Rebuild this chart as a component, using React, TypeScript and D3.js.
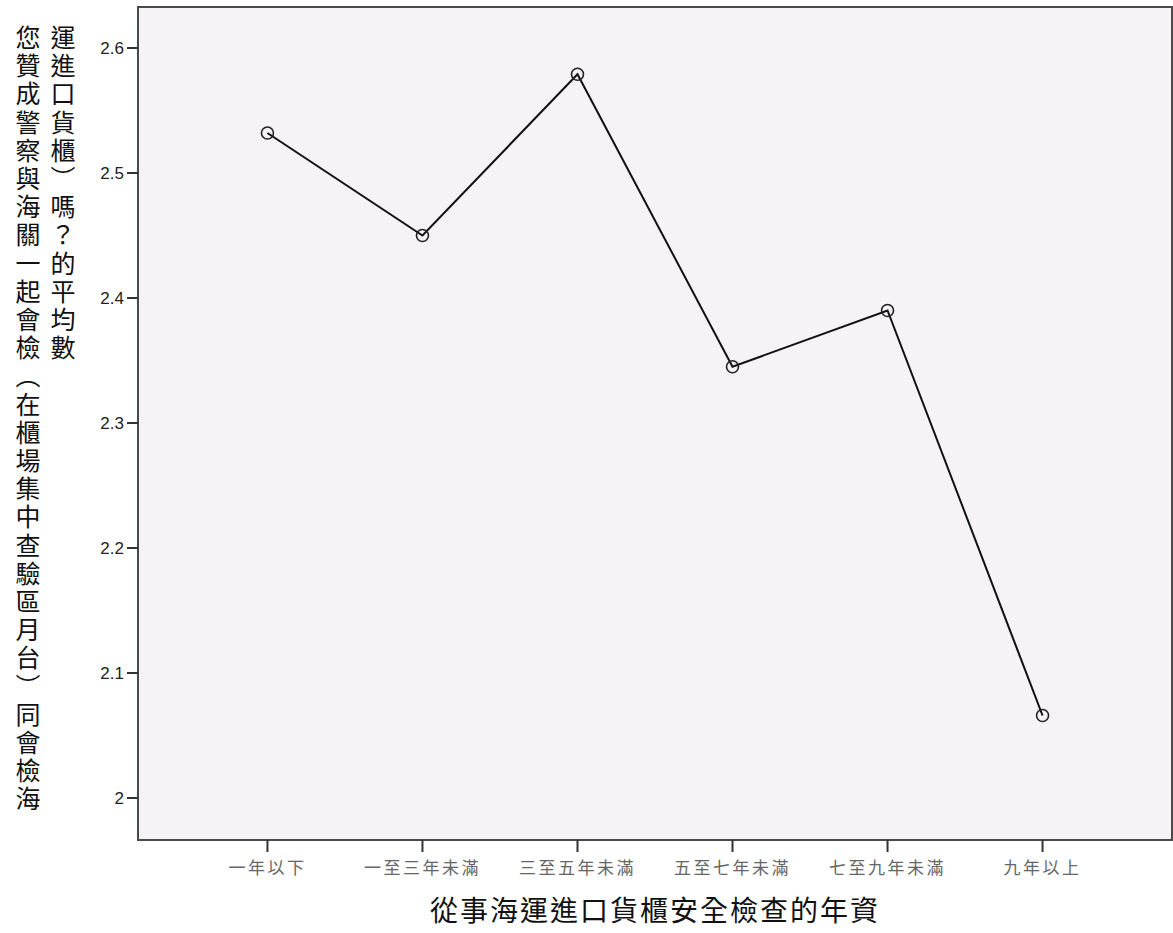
import React from "react";
import * as d3 from "d3";

const categories = ["一年以下", "一至三年未滿", "三至五年未滿", "五至七年未滿", "七至九年未滿", "九年以上"];
const meanValues = [2.532, 2.45, 2.579, 2.345, 2.39, 2.066];
const yTicks = [2.0, 2.1, 2.2, 2.3, 2.4, 2.5, 2.6];
const yTitleLeft = "您贊成警察與海關一起會檢（在櫃場集中查驗區月台）同會檢海";
const yTitleRight = "運進口貨櫃）嗎？的平均數";
const xTitle = "從事海運進口貨櫃安全檢查的年資";

const W = 1173;
const H = 933;
const plot = { left: 138, top: 7, right: 1172, bottom: 840 };
const CJK = "'Noto Sans CJK TC', 'Noto Sans CJK SC', sans-serif";

export default function App() {
  const x = d3
    .scalePoint<string>()
    .domain(categories)
    .range([plot.left, plot.right])
    .padding(0.835);
  const y = d3
    .scaleLinear()
    .domain([1.9664, 2.6328])
    .range([plot.bottom, plot.top]);

  const line = d3
    .line<number>()
    .x((_, i) => x(categories[i]) as number)
    .y((d) => y(d));

  const vertStyle: React.CSSProperties = {
    writingMode: "vertical-rl" as any,
    letterSpacing: "3.2px",
  };

  return (
    <svg
      width={W}
      height={H}
      style={{ position: "absolute", left: 0, top: 0, background: "#fff" }}
    >
      <rect
        x={plot.left}
        y={plot.top}
        width={plot.right - plot.left}
        height={plot.bottom - plot.top}
        fill="#F7F2F6"
        stroke="#4a4a4a"
        strokeWidth={2}
      />
      {yTicks.map((t) => (
        <g key={t}>
          <line x1={plot.left - 11} x2={plot.left} y1={y(t)} y2={y(t)} stroke="#333" strokeWidth={2} />
          <text
            x={plot.left - 14}
            y={y(t)}
            dy="0.35em"
            textAnchor="end"
            fontFamily="Arial, 'Liberation Sans', sans-serif"
            fontSize={17}
            fill="#222"
          >
            {d3.format("")(+t.toFixed(1))}
          </text>
        </g>
      ))}
      {categories.map((c) => (
        <g key={c}>
          <line
            x1={x(c)}
            x2={x(c)}
            y1={plot.bottom}
            y2={plot.bottom + 12}
            stroke="#333"
            strokeWidth={2}
          />
          <text
            x={x(c)}
            y={plot.bottom + 28}
            dy="0.35em"
            textAnchor="middle"
            fontFamily={CJK}
            fontSize={17}
            letterSpacing="2.5px"
            fill="#666"
          >
            {c}
          </text>
        </g>
      ))}
      <path d={line(meanValues) || ""} fill="none" stroke="#111" strokeWidth={2} />
      {meanValues.map((v, i) => (
        <circle
          key={i}
          cx={x(categories[i])}
          cy={y(v)}
          r={6}
          fill="none"
          stroke="#222"
          strokeWidth={1.6}
        />
      ))}
      <text
        x={655}
        y={911}
        dy="0.35em"
        textAnchor="middle"
        fontFamily={CJK}
        fontSize={28}
        letterSpacing="2px"
        fill="#111"
      >
        {xTitle}
      </text>
      <text
        x={28}
        y={25}
        fontFamily={CJK}
        fontSize={25}
        fill="#111"
        style={vertStyle}
      >
        {yTitleLeft}
      </text>
      <text
        x={63}
        y={25}
        fontFamily={CJK}
        fontSize={25}
        fill="#111"
        style={vertStyle}
      >
        {yTitleRight}
      </text>
    </svg>
  );
}
